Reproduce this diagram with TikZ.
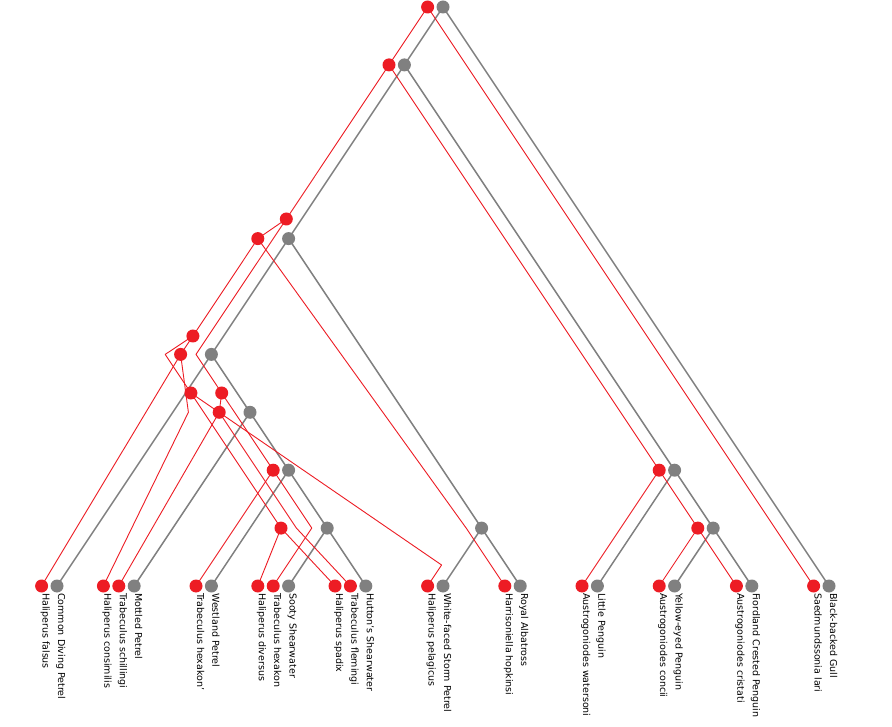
\documentclass[tikz,border=0pt]{standalone}
\usepackage{fontspec}
\setmainfont{DejaVu Sans}
\usetikzlibrary{backgrounds}
\definecolor{hostgray}{RGB}{128,128,128}
\definecolor{louse}{RGB}{237,28,36}

\begin{document}
\begin{tikzpicture}[x=1pt,y=-1pt,
  hostdot/.style={circle,fill=hostgray,minimum size=13pt,inner sep=0pt},
  parasitedot/.style={circle,fill=louse,minimum size=13pt,inner sep=0pt},
  hostedge/.style={draw=hostgray,line width=1.5pt,line join=round},
  parasiteedge/.style={draw=louse,line width=0.9pt,line join=round},
  taxon/.style={rotate=-90,anchor=base west,inner sep=0pt,
    font=\fontsize{9.5}{11}\selectfont,text=black}]

\useasboundingbox (0,0) rectangle (892,727);

% ---------- host tree (grey) ----------
\node[hostdot] (h0) at (443,7) {};
\node[hostdot] (h1) at (404.4,64.9) {};
\node[hostdot] (h2) at (288.6,238.6) {};
\node[hostdot] (h3) at (211.4,354.4) {};
\node[hostdot] (h4) at (250,412.3) {};
\node[hostdot] (h5) at (288.6,470.2) {};
\node[hostdot] (h6) at (327.2,528.1) {};
\node[hostdot] (h7) at (481.6,528.1) {};
\node[hostdot] (h8) at (674.6,470.2) {};
\node[hostdot] (h9) at (713.2,528.1) {};

\node[hostdot] (hCDP) at (57,586) {};
\node[hostdot] (hMP)  at (134.2,586) {};
\node[hostdot] (hWP)  at (211.4,586) {};
\node[hostdot] (hSS)  at (288.6,586) {};
\node[hostdot] (hHS)  at (365.8,586) {};
\node[hostdot] (hWF)  at (443,586) {};
\node[hostdot] (hRA)  at (520.2,586) {};
\node[hostdot] (hLP)  at (597.4,586) {};
\node[hostdot] (hYP)  at (674.6,586) {};
\node[hostdot] (hFC)  at (751.8,586) {};
\node[hostdot] (hBG)  at (829,586) {};

% ---------- parasite tree (red) ----------
\node[parasitedot] (pR)  at (427.6,7) {};
\node[parasitedot] (pP1) at (389,64.9) {};
\node[parasitedot] (pA)  at (286.3,219) {};
\node[parasitedot] (pB)  at (257.8,238.6) {};
\node[parasitedot] (pC)  at (192.9,336) {};
\node[parasitedot] (pD)  at (180.6,354.4) {};
\node[parasitedot] (pE)  at (190.9,393) {};
\node[parasitedot] (pF)  at (221.7,393) {};
\node[parasitedot] (pG)  at (219.2,412.3) {};
\node[parasitedot] (pH)  at (273.2,470.2) {};
\node[parasitedot] (pI)  at (281,528.1) {};
\node[parasitedot] (pJ)  at (659.2,470.2) {};
\node[parasitedot] (pK)  at (697.8,528.1) {};

\node[parasitedot] (pfal) at (41.6,586) {};
\node[parasitedot] (pcon) at (103.4,586) {};
\node[parasitedot] (psch) at (118.8,586) {};
\node[parasitedot] (phxa) at (196,586) {};
\node[parasitedot] (pdiv) at (257.8,586) {};
\node[parasitedot] (phxb) at (273.2,586) {};
\node[parasitedot] (pspa) at (335,586) {};
\node[parasitedot] (pfle) at (350.4,586) {};
\node[parasitedot] (ppel) at (427.6,586) {};
\node[parasitedot] (phop) at (504.8,586) {};
\node[parasitedot] (pwat) at (582,586) {};
\node[parasitedot] (pcnc) at (659.2,586) {};
\node[parasitedot] (pcri) at (736.4,586) {};
\node[parasitedot] (plar) at (813.6,586) {};

% bends where a parasite lineage passes a host node or switches host
\coordinate (kA) at (196,354.4);
\coordinate (kC) at (165.2,354.4);
\coordinate (kD) at (188.4,412.3);
\coordinate (kG) at (296.4,528.1);
\coordinate (kH) at (311.8,528.1);
\coordinate (kB) at (466.2,528.1);
\coordinate (kE) at (441.6,565);

\begin{scope}[on background layer]
  \fill[white] (0,0) rectangle (892,727);
  % host edges
  \foreach \a/\b in {h0/h1,h0/hBG,h1/h2,h1/h8,h2/h3,h2/h7,h3/hCDP,h3/h4,
                     h4/hMP,h4/h5,h5/hWP,h5/h6,h6/hSS,h6/hHS,h7/hWF,h7/hRA,
                     h8/hLP,h8/h9,h9/hYP,h9/hFC}
    \path[hostedge] (\a.center) -- (\b.center);
  % parasite edges
  \foreach \a/\b in {pR/plar,pR/pP1,pP1/pA,pP1/pJ,pJ/pwat,pJ/pK,pK/pcnc,pK/pcri,
                     pA/pB,pB/pC,pC/pD,pD/pfal,pE/pI,pF/pG,pF/pH,pG/psch,
                     pH/phxa,pI/pdiv,pI/pspa}
    \path[parasiteedge] (\a.center) -- (\b.center);
  \path[parasiteedge] (pA.center) -- (kA) -- (pF.center);
  \path[parasiteedge] (pB.center) -- (kB) -- (phop.center);
  \path[parasiteedge] (pC.center) -- (kC) -- (pE.center);
  \path[parasiteedge] (pD.center) -- (kD) -- (pcon.center);
  \path[parasiteedge] (pE.center) -- (kE) -- (ppel.center);
  \path[parasiteedge] (pG.center) -- (kG) -- (pfle.center);
  \path[parasiteedge] (pH.center) -- (kH) -- (phxb.center);
\end{scope}

% ---------- leaf labels ----------
\foreach \n/\t in {hCDP/Common Diving Petrel,hMP/Mottled Petrel,hWP/Westland Petrel,
                   hSS/Sooty Shearwater,hHS/Hutton's Shearwater,
                   hWF/White-faced Storm Petrel,hRA/Royal Albatross,
                   hLP/Little Penguin,hYP/Yellow-eyed Penguin,
                   hFC/Fiordland Crested Penguin,hBG/Black-backed Gull,
                   pfal/Haliperus falsus,pcon/Haliperus consimilis,
                   psch/Trabeculus schillingi,phxa/Trabeculus hexakon',
                   pdiv/Haliperus diversus,phxb/Trabeculus hexakon,
                   pspa/Haliperus spadix,pfle/Trabeculus flemingi,
                   ppel/Haliperus pelagicus,phop/Harrisoniella hopkinsi,
                   pwat/Austrogoniodes watersoni,pcnc/Austrogoniodes concii,
                   pcri/Austrogoniodes cristati,plar/Saedmundssonia lari}
  \node[taxon] (lab-\n) at ([shift={(1,7)}]\n.center) {\t};
\end{tikzpicture}
\end{document}
